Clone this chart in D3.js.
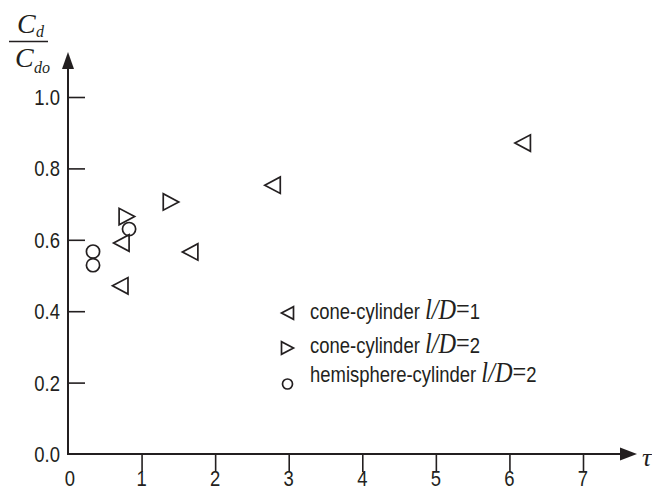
<!DOCTYPE html>
<html>
<head>
<meta charset="utf-8">
<script src="https://cdn.jsdelivr.net/npm/d3@7"></script>
<style>
  html, body { margin: 0; padding: 0; background: #fff; }
  svg { display: block; }
  .lbl { font-family: "Liberation Sans", Arial, sans-serif; font-size: 22px; fill: #231f20; }
  .math { font-family: "Liberation Serif", "DejaVu Serif", serif; font-style: italic; fill: #231f20; }
</style>
</head>
<body>
<div id="root"></div>
<script>
// data
const xTicks = [0, 1, 2, 3, 4, 5, 6, 7];
const yTicks = [0.0, 0.2, 0.4, 0.6, 0.8, 1.0];

const coneLD1 = [[0.71, 0.471], [0.725, 0.591], [1.66, 0.566], [2.78, 0.753], [6.18, 0.871]];
const coneLD2 = [[0.80, 0.665], [1.40, 0.706]];
const hemiLD2 = [[0.34, 0.567], [0.34, 0.529], [0.83, 0.630]];

const legendNames = ['cone-cylinder', 'cone-cylinder', 'hemisphere-cylinder'];
const legendLD = ['1', '2', '2'];
const legendShapes = ['left', 'right', 'circle'];

const width = 652, height = 492;
const ink = '#231f20';
const squeeze = 0.84; // condensed look of the printed sans

const svg = d3.select('#root').append('svg')
  .attr('width', width)
  .attr('height', height);

// scales
const x = d3.scaleLinear().domain([0, 7]).range([68, 583]);
const y = d3.scaleLinear().domain([0, 1]).range([454, 97]);

// marker paths
const tri = (dir, w, h) => dir === 'left'
  ? `M${-w / 2},0L${w / 2},${-h / 2}L${w / 2},${h / 2}Z`
  : `M${w / 2},0L${-w / 2},${-h / 2}L${-w / 2},${h / 2}Z`;

// narrow text helper
const narrowText = (parent, px, py, anchor) => parent.append('g')
  .attr('transform', `translate(${px},${py}) scale(${squeeze},1)`)
  .append('text')
  .attr('class', 'lbl')
  .attr('text-anchor', anchor || 'start');

// axes
const xAxis = d3.axisBottom(x).tickValues(xTicks.slice(1)).tickSize(18).tickFormat('');
const yAxis = d3.axisRight(y).tickValues(yTicks.slice(1)).tickSize(17).tickFormat('');

const gx = svg.append('g').attr('transform', `translate(0,${y(0)})`).call(xAxis);
const gy = svg.append('g').attr('transform', `translate(${x(0)},0)`).call(yAxis);
[gx, gy].forEach(g => {
  g.select('.domain').remove();
  g.selectAll('.tick line').attr('stroke', ink).attr('stroke-width', 1.6);
});

// axis lines with arrows
svg.append('line')
  .attr('x1', x(0)).attr('x2', 622)
  .attr('y1', y(0)).attr('y2', y(0))
  .attr('stroke', ink).attr('stroke-width', 2);
svg.append('path')
  .attr('d', `M620,${y(0) - 6.5}L637,${y(0)}L620,${y(0) + 6.5}Z`)
  .attr('fill', ink);

svg.append('line')
  .attr('x1', x(0)).attr('x2', x(0))
  .attr('y1', y(0) + 1).attr('y2', 66)
  .attr('stroke', ink).attr('stroke-width', 2);
svg.append('path')
  .attr('d', `M${x(0) - 6},69L${x(0)},52L${x(0) + 6},69Z`)
  .attr('fill', ink);

// tick labels
yTicks.forEach(d => {
  narrowText(svg, 60, y(d) + 8, 'end').text(d.toFixed(1));
});
xTicks.forEach(d => {
  narrowText(svg, x(d) + (d === 0 ? 2 : 0), 486, 'middle').text(d);
});

// axis titles
svg.append('text').attr('class', 'math')
  .attr('x', 642).attr('y', 466).attr('font-size', 26)
  .text('τ');

const frac = svg.append('g');
frac.append('text').attr('class', 'math').attr('x', 17).attr('y', 33).attr('font-size', 28).text('C');
frac.append('text').attr('class', 'math').attr('x', 36).attr('y', 37).attr('font-size', 16).text('d');
frac.append('line')
  .attr('x1', 9).attr('x2', 48).attr('y1', 41.5).attr('y2', 41.5)
  .attr('stroke', ink).attr('stroke-width', 1.6);
frac.append('text').attr('class', 'math').attr('x', 15).attr('y', 67).attr('font-size', 28).text('C');
frac.append('text').attr('class', 'math').attr('x', 34).attr('y', 73).attr('font-size', 16).text('do');

// points
const plot = svg.append('g')
  .attr('fill', 'none')
  .attr('stroke', ink)
  .attr('stroke-width', 1.7);

plot.selectAll('.p1').data(coneLD1).enter().append('path')
  .attr('transform', d => `translate(${x(d[0])},${y(d[1])})`)
  .attr('d', tri('left', 15.5, 16.5));

plot.selectAll('.p2').data(coneLD2).enter().append('path')
  .attr('transform', d => `translate(${x(d[0])},${y(d[1])})`)
  .attr('d', tri('right', 15.5, 16.5));

plot.selectAll('.p3').data(hemiLD2).enter().append('circle')
  .attr('cx', d => x(d[0]))
  .attr('cy', d => y(d[1]))
  .attr('r', 6.6);

// legend
const legRows = [313, 348, 384];
const legBase = [319, 353, 382];
const legend = svg.append('g');

legendShapes.forEach((s, i) => {
  if (s === 'circle') {
    legend.append('circle')
      .attr('cx', 287.5).attr('cy', legRows[i]).attr('r', 5)
      .attr('fill', 'none').attr('stroke', ink).attr('stroke-width', 1.7);
  } else {
    legend.append('path')
      .attr('transform', `translate(287.5,${legRows[i]})`)
      .attr('d', tri(s, 12, 12.5))
      .attr('fill', 'none').attr('stroke', ink).attr('stroke-width', 1.7);
  }
  const t = narrowText(legend, 310, legBase[i]);
  t.append('tspan').text(legendNames[i] + ' ');
  t.append('tspan')
    .attr('font-family', '"Liberation Serif", serif')
    .attr('font-style', 'italic')
    .attr('font-size', 29)
    .text('l/D');
  t.append('tspan')
    .attr('font-family', '"Liberation Serif", serif')
    .attr('font-size', 29)
    .text('=');
  t.append('tspan').text(legendLD[i]);
});
</script>
</body>
</html>
